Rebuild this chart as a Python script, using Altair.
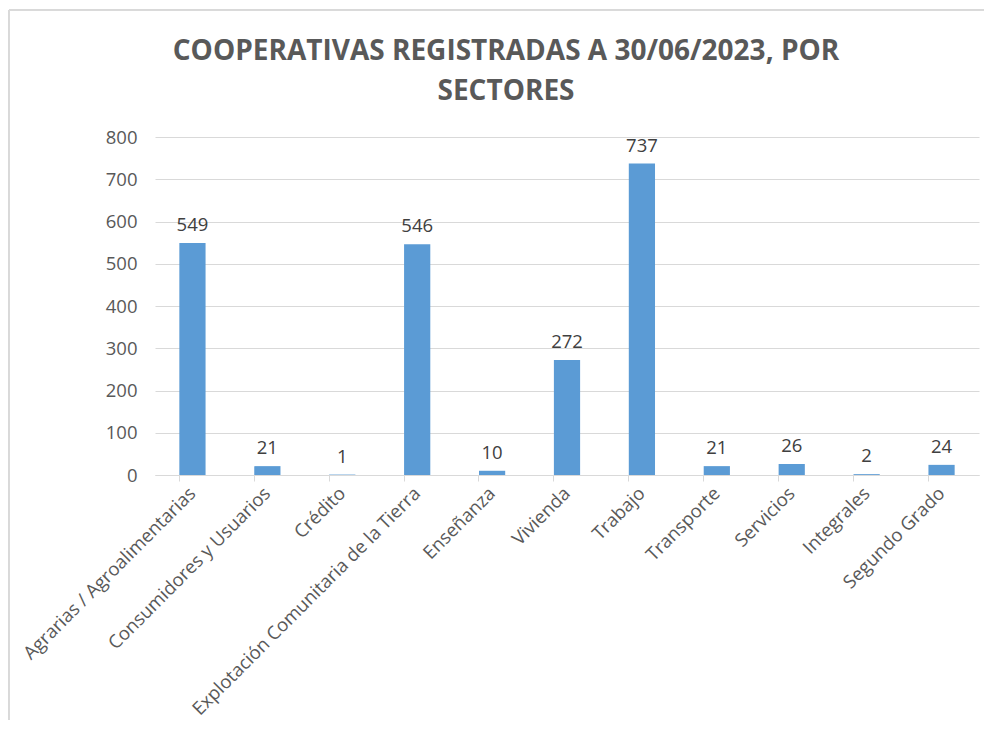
import altair as alt
import pandas as pd

sectores = [
    "Agrarias / Agroalimentarias",
    "Consumidores y Usuarios",
    "Crédito",
    "Explotación Comunitaria de la Tierra",
    "Enseñanza",
    "Vivienda",
    "Trabajo",
    "Transporte",
    "Servicios",
    "Integrales",
    "Segundo Grado",
]
valores = [549, 21, 1, 546, 10, 272, 737, 21, 26, 2, 24]

df = pd.DataFrame({"sector": sectores, "valor": valores})

FONT = "Open Sans"
GRAY = "#595959"

x_enc = alt.X(
    "sector:N",
    sort=sectores,
    title=None,
    scale=alt.Scale(paddingInner=0.65, paddingOuter=0.325),
    axis=alt.Axis(
        labelAngle=-45,
        labelAlign="right",
        labelBaseline="middle",
        labelFont=FONT,
        labelFontSize=18.5,
        labelColor=GRAY,
        labelPadding=9,
        labelLimit=500,
        domainColor="#D9D9D9",
        tickColor="#D9D9D9",
        tickSize=6,
        bandPosition=0,
        grid=False,
    ),
)
y_enc = alt.Y(
    "valor:Q",
    title=None,
    scale=alt.Scale(domain=[0, 800]),
    axis=alt.Axis(
        values=[0, 100, 200, 300, 400, 500, 600, 700, 800],
        labelFont=FONT,
        labelFontSize=18.5,
        labelColor=GRAY,
        labelPadding=18,
        ticks=False,
        domain=False,
        gridColor="#D9D9D9",
        gridWidth=1,
    ),
)

bars = alt.Chart(df).mark_bar(color="#5B9BD5").encode(x=x_enc, y=y_enc)

labels = alt.Chart(df).mark_text(
    font=FONT, fontSize=18.5, color="#404040", baseline="bottom", dy=-8
).encode(x=alt.X("sector:N", sort=sectores), y="valor:Q", text="valor:Q")

border = alt.Chart(df).mark_rect(
    fill=None, stroke="#D9D9D9", strokeWidth=1
).encode(
    x=alt.value(-146), x2=alt.value(900), y=alt.value(-127), y2=alt.value(700)
)

chart = alt.layer(border, bars, labels).properties(
    width=824,
    height=338,
    autosize=alt.AutoSizeParams(type="none"),
    padding={"left": 147, "top": 129, "right": 5, "bottom": 245},
    title=alt.TitleParams(
        text=["COOPERATIVAS REGISTRADAS A 30/06/2023, POR", "SECTORES"],
        font=FONT,
        fontSize=28,
        fontWeight="bold",
        color=GRAY,
        anchor="middle",
        frame="group",
        dx=-61,
        dy=96,
        lineHeight=40,
        offset=0,
    ),
).configure_view(stroke=None)

chart.save("out.html", embed_options={"renderer": "svg", "actions": False})
